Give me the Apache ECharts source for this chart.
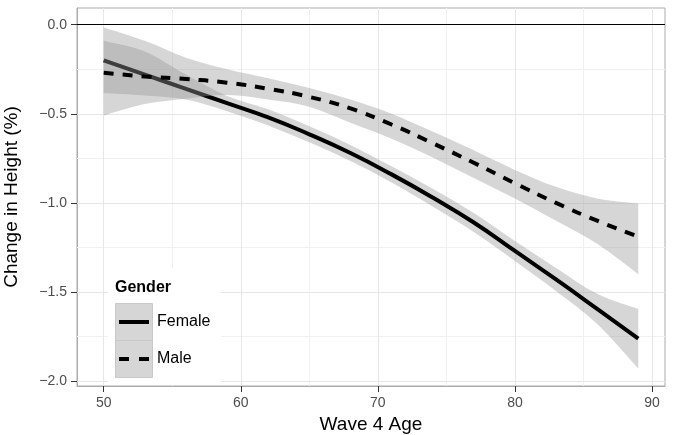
<!DOCTYPE html>
<html>
<head>
<meta charset="utf-8">
<script src="https://cdn.jsdelivr.net/npm/echarts@6/dist/echarts.min.js"></script>
<style>
  html, body { margin: 0; padding: 0; background: #fff; }
  #chart { width: 674px; height: 435px; }
</style>
</head>
<body>
<div id="chart"></div>
<script>
const ages = [50, 53, 56, 59, 62, 65, 68, 71, 74, 77, 80, 83, 86, 89];

const femaleFit   = [-0.20, -0.28, -0.36, -0.44, -0.52, -0.615, -0.72, -0.84, -0.97, -1.11, -1.27, -1.43, -1.595, -1.762];
const femaleUpper = [-0.09, -0.15, -0.28, -0.40, -0.475, -0.57, -0.675, -0.795, -0.92, -1.057, -1.214, -1.365, -1.51, -1.595];
const femaleLower = [-0.385, -0.397, -0.42, -0.485, -0.565, -0.66, -0.765, -0.885, -1.02, -1.163, -1.326, -1.495, -1.68, -1.93];

const maleFit   = [-0.27, -0.29, -0.305, -0.325, -0.36, -0.405, -0.47, -0.56, -0.665, -0.775, -0.89, -1.0, -1.10, -1.19];
const maleUpper = [-0.015, -0.09, -0.185, -0.25, -0.30, -0.355, -0.42, -0.50, -0.60, -0.705, -0.815, -0.91, -0.975, -1.003];
const maleLower = [-0.51, -0.445, -0.415, -0.395, -0.42, -0.46, -0.55, -0.64, -0.745, -0.86, -0.975, -1.10, -1.23, -1.40];

const xTicks = [50, 60, 70, 80, 90];
const xMinor = [55, 65, 75, 85];
const yTicks = [0, -0.5, -1, -1.5, -2];
const yMinor = [-0.25, -0.75, -1.25, -1.75];

const FONT = 'Liberation Sans, Arial, sans-serif';
const SMOOTH = 0.5;

const pairs = (ys) => ages.map((a, i) => [a, ys[i]]);

const gridLines = [
  ...xMinor.map(v => ({ xAxis: v, lineStyle: { color: '#f1f1f1' } })),
  ...yMinor.map(v => ({ yAxis: v, lineStyle: { color: '#f1f1f1' } })),
  ...xTicks.map(v => ({ xAxis: v, lineStyle: { color: '#e6e6e6' } })),
  ...yTicks.filter(v => v !== 0).map(v => ({ yAxis: v, lineStyle: { color: '#e6e6e6' } })),
  { yAxis: 0, lineStyle: { color: '#000', width: 1.2 } }
];

// smooth path through pixel points (catmull-rom, control x kept inside segment)
function curve(pts, first) {
  let d = (first ? 'M' : 'L') + pts[0][0] + ',' + pts[0][1];
  for (let i = 0; i < pts.length - 1; i++) {
    const p0 = pts[i - 1] || pts[i], p1 = pts[i], p2 = pts[i + 1], p3 = pts[i + 2] || pts[i + 1];
    const lo = Math.min(p1[0], p2[0]), hi = Math.max(p1[0], p2[0]);
    const c1x = Math.min(hi, Math.max(lo, p1[0] + (p2[0] - p0[0]) / 6));
    const c2x = Math.min(hi, Math.max(lo, p2[0] - (p3[0] - p1[0]) / 6));
    const c1y = p1[1] + (p2[1] - p0[1]) / 6, c2y = p2[1] - (p3[1] - p1[1]) / 6;
    d += 'C' + c1x + ',' + c1y + ' ' + c2x + ',' + c2y + ' ' + p2[0] + ',' + p2[1];
  }
  return d;
}

function bandSeries(name, upper, lower, z) {
  return {
    name, type: 'custom', z, silent: true, clip: true,
    data: [[ages[0], upper[0]]],
    renderItem: (params, api) => {
      const top = ages.map((a, i) => api.coord([a, upper[i]]));
      const bot = ages.map((a, i) => api.coord([a, lower[i]])).reverse();
      return {
        type: 'path',
        shape: { pathData: curve(top, true) + curve(bot, false) + 'Z' },
        style: { fill: 'rgba(153,153,153,0.4)', stroke: null }
      };
    }
  };
}

const chart = echarts.init(document.getElementById('chart'), null, { renderer: 'canvas' });
chart.setOption({
  animation: false,
  backgroundColor: '#fff',
  textStyle: { fontFamily: FONT },
  grid: {
    left: 77, right: 9, top: 8, bottom: 49,
    containLabel: false, outerBoundsMode: 'none',
    show: true, borderColor: '#ababab', borderWidth: 1, backgroundColor: 'transparent'
  },
  xAxis: {
    type: 'value', min: 48.05, max: 90.95,
    name: 'Wave 4 Age', nameLocation: 'middle', nameGap: 29,
    nameTextStyle: { fontSize: 19, color: '#000', fontFamily: FONT },
    axisLine: { show: true, onZero: false, lineStyle: { color: '#ababab', width: 1 } },
    axisTick: { show: true, customValues: xTicks, length: 6, lineStyle: { color: '#333', width: 1 } },
    axisLabel: { customValues: xTicks, color: '#4d4d4d', fontSize: 14, margin: 10, fontFamily: FONT },
    splitLine: { show: false }
  },
  yAxis: {
    type: 'value', min: -2.028, max: 0.094,
    name: 'Change in Height (%)', nameLocation: 'middle', nameGap: 56,
    nameTextStyle: { fontSize: 19, color: '#000', fontFamily: FONT },
    axisLine: { show: true, onZero: false, lineStyle: { color: '#ababab', width: 1 } },
    axisTick: { show: true, customValues: yTicks, length: 6, lineStyle: { color: '#333', width: 1 } },
    axisLabel: {
      customValues: yTicks, color: '#4d4d4d', fontSize: 14, margin: 10, fontFamily: FONT,
      formatter: v => (v < 0 ? '\u2212' : '') + Math.abs(v).toFixed(1)
    },
    splitLine: { show: false }
  },
  title: {
    text: 'Gender', left: 115, top: 280, padding: 0, z: 20,
    textStyle: { fontSize: 16, fontWeight: 'bold', color: '#000', fontFamily: FONT }
  },
  legend: {
    data: [
      { name: 'Female', icon: 'path://M0,0H30V4H0Z' },
      { name: 'Male', icon: 'path://M0,0H10V4H0ZM20,0H30V4H20Z' }
    ],
    orient: 'vertical', left: 119, top: 303.5,
    itemWidth: 30, itemHeight: 37, itemGap: 0, padding: 0, selectedMode: false, z: 20,
    itemStyle: { color: '#000' },
    textStyle: { fontSize: 16, lineHeight: 37, color: '#000', fontFamily: FONT, padding: [0, 0, 0, 3] }
  },
  graphic: [
    { type: 'rect', z: 10, silent: true, shape: { x: 108, y: 268, width: 113, height: 117 }, style: { fill: '#fff' } },
    { type: 'rect', z: 15, silent: true, shape: { x: 115.5, y: 303.5, width: 37, height: 37 }, style: { fill: '#d6d6d6', stroke: '#c8c8c8', lineWidth: 1 } },
    { type: 'rect', z: 15, silent: true, shape: { x: 115.5, y: 340.5, width: 37, height: 37 }, style: { fill: '#d6d6d6', stroke: '#c8c8c8', lineWidth: 1 } }
  ],
  series: [
    bandSeries('femaleBand', femaleUpper, femaleLower, 2),
    {
      name: 'Female', type: 'line', data: pairs(femaleFit), z: 3,
      symbol: 'none', smooth: SMOOTH, color: '#000',
      lineStyle: { color: '#000', width: 4, type: 'solid' },
      markLine: {
        z: 1, silent: true, symbol: ['none', 'none'], animation: false,
        label: { show: false },
        lineStyle: { type: 'solid', width: 1 },
        data: gridLines
      }
    },
    bandSeries('maleBand', maleUpper, maleLower, 4),
    {
      name: 'Male', type: 'line', data: pairs(maleFit), z: 5,
      symbol: 'none', smooth: SMOOTH, color: '#000',
      lineStyle: { color: '#000', width: 4, type: [10, 9] }
    }
  ]
});
</script>
</body>
</html>
